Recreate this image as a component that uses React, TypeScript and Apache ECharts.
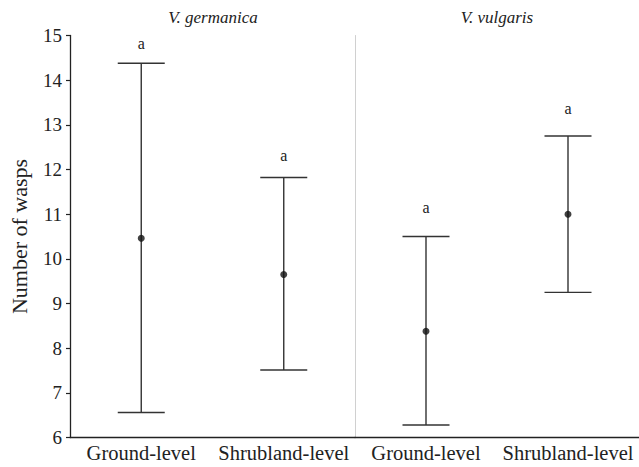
import React, { useEffect, useRef } from "react";
import * as echarts from "echarts";

const categories = ["Ground-level", "Shrubland-level"];
const species = ["V. germanica", "V. vulgaris"];
const yTicks = [6, 7, 8, 9, 10, 11, 12, 13, 14, 15];

const germanicaMean = [10.46, 9.65];
const germanicaLower = [6.56, 7.51];
const germanicaUpper = [14.38, 11.82];
const germanicaLetters = ["a", "a"];
const germanicaLetterY = [14.83, 12.32];

const vulgarisMean = [8.38, 11.0];
const vulgarisLower = [6.28, 9.25];
const vulgarisUpper = [10.5, 12.75];
const vulgarisLetters = ["a", "a"];
const vulgarisLetterY = [11.15, 13.36];

const FONT = "Liberation Serif";
const INK = "#222";

export default function App() {
  const ref = useRef<HTMLDivElement>(null);

  useEffect(() => {
    if (!ref.current) return;
    const chart = echarts.init(ref.current, null, { renderer: "svg" });

    const barData = (lo: number[], hi: number[]) =>
      categories.map((_, i) => [i, lo[i], hi[i]]);
    const meanData = (m: number[]) => categories.map((_, i) => [i, m[i]]);
    const letterData = (y: number[]) => categories.map((_, i) => [i, y[i]]);

    const errRender = (params: any, api: any) => {
      const x = api.value(0);
      const pLo = api.coord([x, api.value(1)]);
      const pHi = api.coord([x, api.value(2)]);
      const hw = 23.5;
      const style = { stroke: "#333", lineWidth: 1.4 };
      return {
        type: "group",
        children: [
          { type: "line", shape: { x1: pHi[0], y1: pHi[1], x2: pLo[0], y2: pLo[1] }, style },
          { type: "line", shape: { x1: pHi[0] - hw, y1: pHi[1], x2: pHi[0] + hw, y2: pHi[1] }, style },
          { type: "line", shape: { x1: pLo[0] - hw, y1: pLo[1], x2: pLo[0] + hw, y2: pLo[1] }, style },
        ],
      };
    };

    const letterRender = (params: any, api: any) => {
      const p = api.coord([api.value(0), api.value(1)]);
      const d = params.dataIndex;
      const arr = params.seriesIndex === 2 ? germanicaLetters : vulgarisLetters;
      return {
        type: "text",
        x: p[0],
        y: p[1],
        style: {
          text: arr[d],
          textAlign: "center",
          textVerticalAlign: "middle",
          fontFamily: FONT,
          fontSize: 16,
          fill: INK,
        },
      };
    };

    const grids = [
      { left: 70, top: 35.5, width: 285, height: 402 },
      { left: 355, top: 35.5, width: 284, height: 402 },
    ];

    const xAxes = grids.map((_, gi) => ({
      type: "category",
      gridIndex: gi,
      data: categories,
      axisLine: { show: true, lineStyle: { color: INK, width: 1.3 } },
      axisTick: { show: false },
      axisLabel: {
        interval: 0,
        hideOverlap: false,
        fontFamily: FONT,
        fontSize: 20.5,
        color: INK,
        margin: 5,
      },
      splitLine: { show: false },
    }));

    const yAxes = [
      {
        type: "value",
        gridIndex: 0,
        min: 6,
        max: 15,
        interval: 1,
        name: "Number of wasps",
        nameLocation: "middle",
        nameGap: 40,
        nameTextStyle: { fontFamily: FONT, fontSize: 22, color: INK },
        axisLine: { show: true, lineStyle: { color: INK, width: 1.3 } },
        axisTick: { show: true, length: 4, lineStyle: { color: INK, width: 1.2 } },
        axisLabel: {
          fontFamily: FONT,
          fontSize: 19,
          color: INK,
          margin: 8,
          formatter: (v: number) => (yTicks.includes(v) ? String(v) : ""),
        },
        splitLine: { show: false },
      },
      {
        type: "value",
        gridIndex: 1,
        min: 6,
        max: 15,
        interval: 1,
        axisLine: { show: true, lineStyle: { color: "#d0d0d0", width: 1 } },
        axisTick: { show: false },
        axisLabel: { show: false },
        splitLine: { show: false },
      },
    ];

    const stripTitle = (text: string, x: number) => ({
      type: "text",
      x,
      y: 17.5,
      style: {
        text,
        textAlign: "center",
        textVerticalAlign: "middle",
        fontFamily: FONT,
        fontStyle: "italic",
        fontSize: 17,
        fill: INK,
      },
    });

    chart.setOption({
      animation: false,
      backgroundColor: "#fff",
      grid: grids,
      xAxis: xAxes,
      yAxis: yAxes,
      graphic: [stripTitle(species[0], 213), stripTitle(species[1], 497)],
      series: [
        {
          type: "custom",
          xAxisIndex: 0,
          yAxisIndex: 0,
          renderItem: errRender,
          encode: { x: 0, y: [1, 2] },
          data: barData(germanicaLower, germanicaUpper),
          z: 2,
        },
        {
          type: "custom",
          xAxisIndex: 1,
          yAxisIndex: 1,
          renderItem: errRender,
          encode: { x: 0, y: [1, 2] },
          data: barData(vulgarisLower, vulgarisUpper),
          z: 2,
        },
        {
          type: "custom",
          xAxisIndex: 0,
          yAxisIndex: 0,
          renderItem: letterRender,
          encode: { x: 0, y: 1 },
          data: letterData(germanicaLetterY),
          z: 3,
        },
        {
          type: "custom",
          xAxisIndex: 1,
          yAxisIndex: 1,
          renderItem: letterRender,
          encode: { x: 0, y: 1 },
          data: letterData(vulgarisLetterY),
          z: 3,
        },
        {
          type: "scatter",
          xAxisIndex: 0,
          yAxisIndex: 0,
          symbol: "circle",
          symbolSize: 7,
          itemStyle: { color: "#111" },
          data: meanData(germanicaMean),
          z: 4,
        },
        {
          type: "scatter",
          xAxisIndex: 1,
          yAxisIndex: 1,
          symbol: "circle",
          symbolSize: 7,
          itemStyle: { color: "#111" },
          data: meanData(vulgarisMean),
          z: 4,
        },
      ],
    });

    return () => chart.dispose();
  }, []);

  return (
    <div
      ref={ref}
      style={{ position: "fixed", left: 0, top: 0, width: 639, height: 467 }}
    />
  );
}
